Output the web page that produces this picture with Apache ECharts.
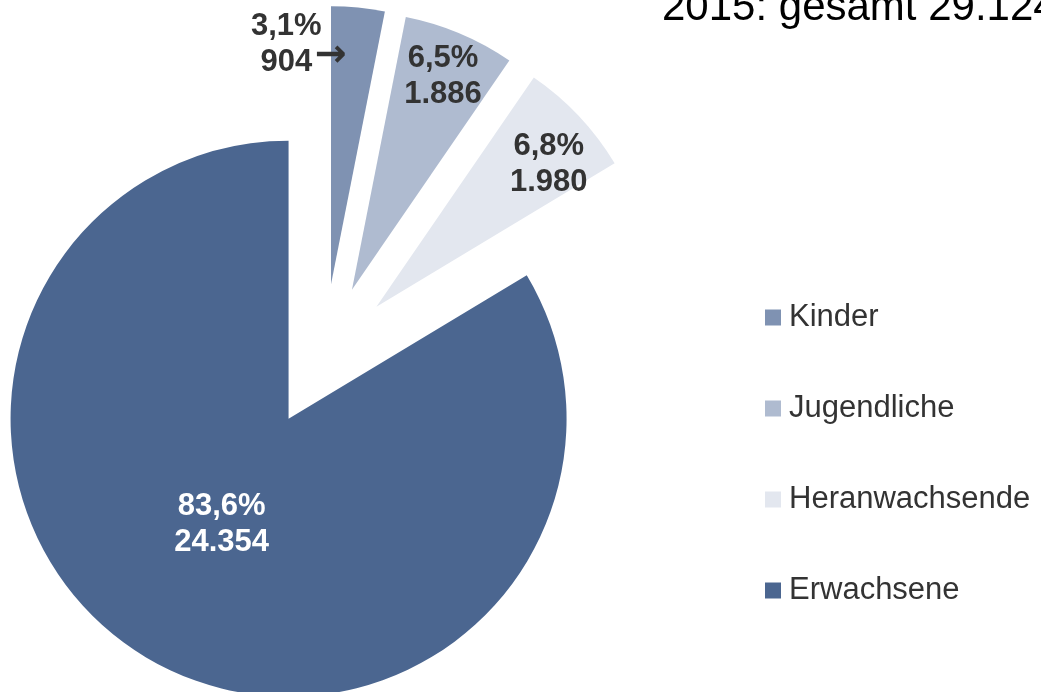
<!DOCTYPE html>
<html>
<head>
<meta charset="utf-8">
<script src="https://cdn.jsdelivr.net/npm/echarts@6/dist/echarts.min.js"></script>
<style>
html, body { margin: 0; padding: 0; background: #fff; }
#myChart { width: 1041px; height: 692px; }
</style>
</head>
<body>
<div id="myChart"></div>
<script>
const categories = ['Kinder', 'Jugendliche', 'Heranwachsende', 'Erwachsene'];
const counts = [904, 1886, 1980, 24354];
const titleText = '2015: gesamt 29.124';

const colors = ['#7f92b2', '#afbbd0', '#e3e7ef', '#4b6690'];
const labelColors = ['#333333', '#333333', '#333333', '#ffffff'];
// nudge the labels away from the default 'inside' spot
const labelShift = [[-46, -99], [36, -82], [69, -45], [3, -18]];
const font = '"Liberation Sans", Arial, sans-serif';

function dots(v) {
  return String(v).replace(/\B(?=(\d{3})+(?!\d))/g, '.');
}

const myChart = echarts.init(document.getElementById('myChart'));
myChart.setOption({
  animation: false,
  title: {
    text: titleText,
    left: 662,
    top: -13,
    padding: 0,
    textStyle: { fontFamily: font, fontSize: 42, fontWeight: 'normal', color: '#000' }
  },
  legend: {
    orient: 'vertical',
    left: 760,
    top: 297,
    icon: 'rect',
    itemWidth: 16,
    itemHeight: 16,
    itemGap: 60,
    selectedMode: false,
    textStyle: { fontFamily: font, fontSize: 31, color: '#333', padding: [10, 0, 0, 3] },
    data: categories
  },
  series: [{
    type: 'pie',
    center: [324, 356],
    radius: 278,
    startAngle: 90,
    clockwise: true,
    selectedMode: 'multiple',
    selectedOffset: 72,
    avoidLabelOverlap: false,
    emphasis: { disabled: true },
    label: {
      position: 'inside',
      fontFamily: font,
      fontSize: 31,
      fontWeight: 'bold',
      lineHeight: 36,
      formatter: function (p) {
        const pct = p.percent.toFixed(1).replace('.', ',') + '%';
        if (p.dataIndex === 0) {
          return '{t|' + pct + '}{sp|}\n{t|' + dots(p.value) + '}{arr|→}';
        }
        return pct + '\n' + dots(p.value);
      },
      rich: {
        t: { fontFamily: font, fontSize: 31, fontWeight: 'bold', color: '#333', lineHeight: 36 },
        sp: { width: 25 },
        arr: {
          width: 25, align: 'right', fontFamily: 'DejaVu Sans', fontSize: 38, color: '#333',
          lineHeight: 24, padding: [0, 0, 12, 0]
        }
      }
    },
    labelLine: { show: false },
    labelLayout: function (p) {
      return { dx: labelShift[p.dataIndex][0], dy: labelShift[p.dataIndex][1] };
    },
    data: categories.map(function (name, i) {
      return {
        name: name,
        value: counts[i],
        selected: true,
        itemStyle: { color: colors[i] },
        select: { itemStyle: { color: colors[i], borderWidth: 0 } },
        label: { color: labelColors[i] }
      };
    })
  }]
});
</script>
</body>
</html>
